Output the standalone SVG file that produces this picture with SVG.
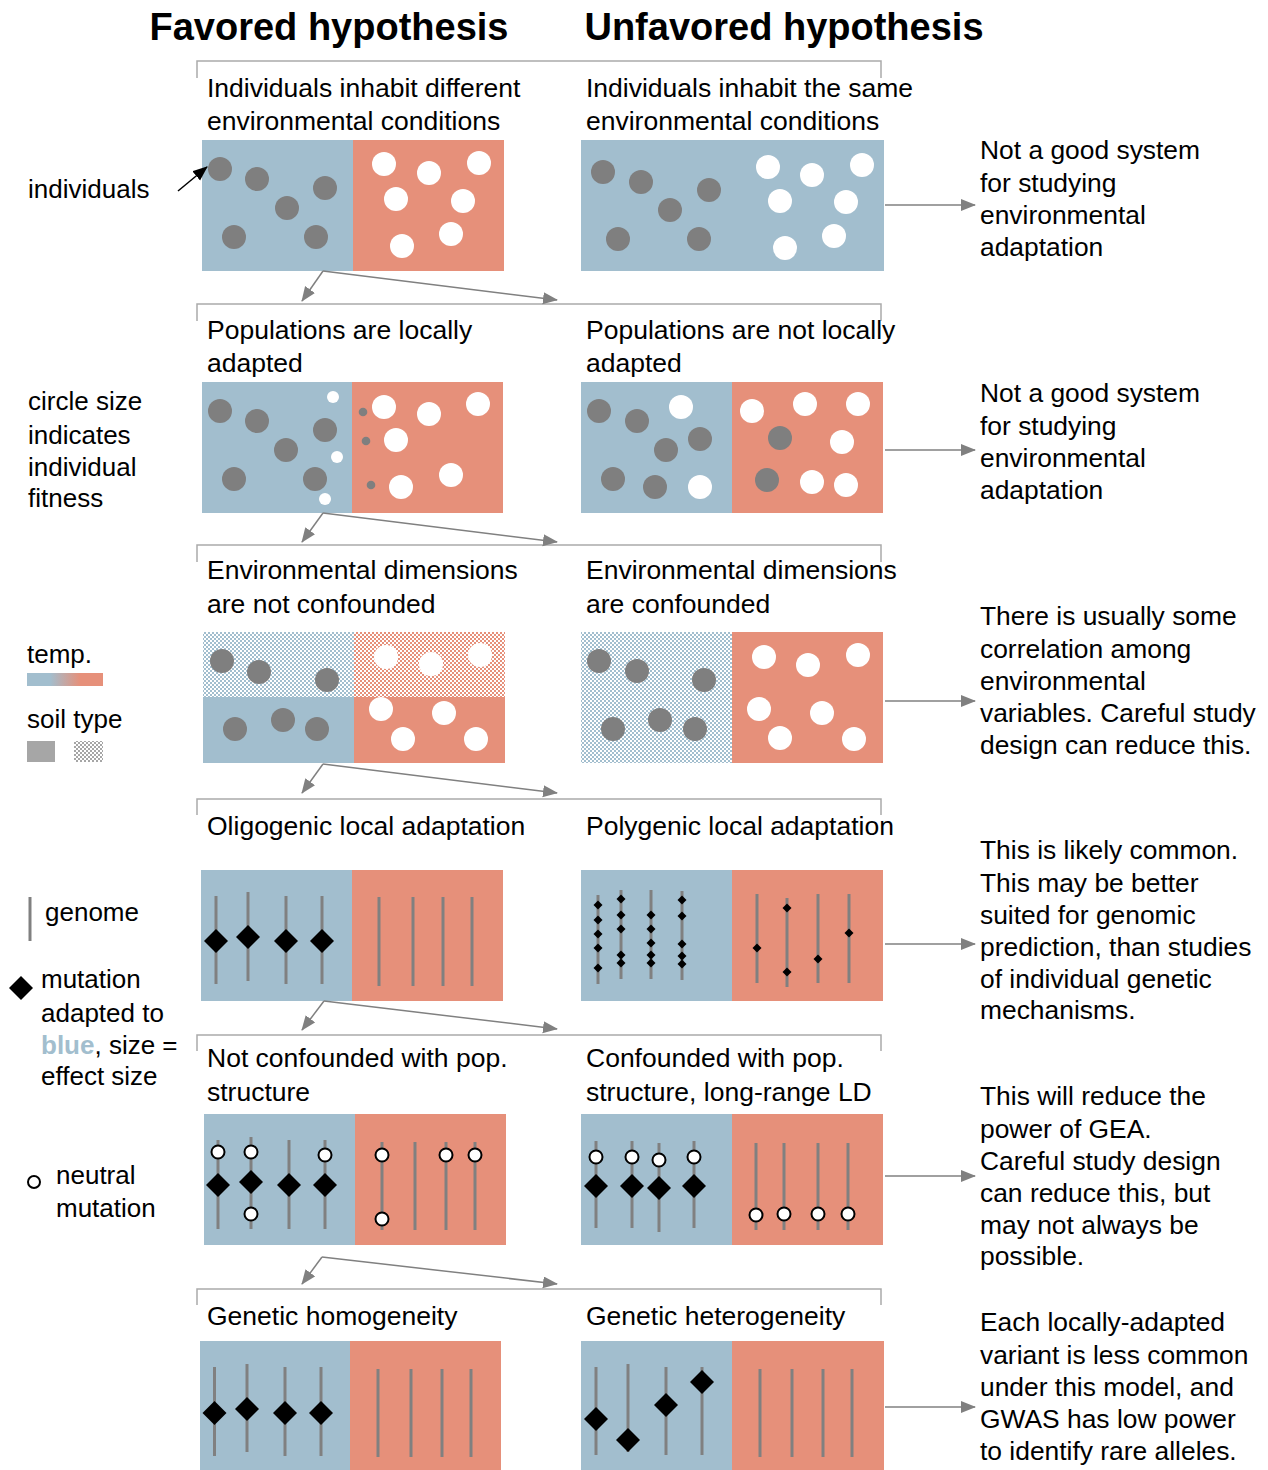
<svg xmlns="http://www.w3.org/2000/svg" xmlns:xlink="http://www.w3.org/1999/xlink" width="1268" height="1470" viewBox="0 0 1268 1470">
<style>
text{font-family:"Liberation Sans",Arial,sans-serif;fill:#000}
.title{font-size:38px;font-weight:bold;text-anchor:middle}
.lbl{font-size:26.5px}
.side{font-size:26.4px}
.leg{font-size:26px}
.blue{fill:#A2BECE}
.red{fill:#E6907A}
.pb{fill:url(#patB)}
.pr{fill:url(#patR)}
.g{fill:#7F7F7F}
.w{fill:#FFFFFF}
.gl{stroke:#808080;stroke-width:3;fill:none}
.nm{fill:#FFFFFF;stroke:#000;stroke-width:2}
.br{fill:none;stroke:#AAAAAA;stroke-width:1.5}
.con{stroke:#808080;stroke-width:1.5;fill:none;marker-end:url(#ah)}
</style>
<defs>
<marker id="ah" markerUnits="userSpaceOnUse" markerWidth="15" markerHeight="13" refX="14" refY="6" orient="auto"><path d="M0,0 L15,6 L0,12 Z" fill="#808080"/></marker>
<marker id="ahk" markerUnits="userSpaceOnUse" markerWidth="15" markerHeight="13" refX="14" refY="6" orient="auto"><path d="M0,0 L15,6 L0,12 Z" fill="#000"/></marker>
<pattern id="patB" patternUnits="userSpaceOnUse" width="4" height="4"><rect width="4" height="4" fill="#FFFFFF"/><rect x="0" y="0" width="2" height="2" fill="#A2BECE"/><rect x="2" y="2" width="2" height="2" fill="#A2BECE"/></pattern>
<pattern id="patR" patternUnits="userSpaceOnUse" width="4" height="4"><rect width="4" height="4" fill="#FFFFFF"/><rect x="0" y="0" width="2" height="2" fill="#E6907A"/><rect x="2" y="2" width="2" height="2" fill="#E6907A"/></pattern>
<pattern id="patG" patternUnits="userSpaceOnUse" width="4" height="4"><rect width="4" height="4" fill="#FFFFFF"/><rect x="0" y="0" width="2" height="2" fill="#A6A6A6"/><rect x="2" y="2" width="2" height="2" fill="#A6A6A6"/></pattern>
<linearGradient id="tempGrad" x1="0" y1="0" x2="1" y2="0"><stop offset="0.3" stop-color="#A2BECE"/><stop offset="0.7" stop-color="#E6907A"/></linearGradient>
<path id="dm" d="M0,-12 L12,0 L0,12 L-12,0 Z" fill="#000"/>
<path id="ds" d="M0,-4.5 L4.5,0 L0,4.5 L-4.5,0 Z" fill="#000"/>
</defs>

<g id="titles">
<text class="title" x="329" y="40">Favored hypothesis</text>
<text class="title" x="784" y="40">Unfavored hypothesis</text>
</g>

<g id="brackets">
<path class="br" d="M197,78 V61 H881 V78"/>
<path class="br" d="M197,321 V304 H881 V321"/>
<path class="br" d="M197,562 V545 H881 V562"/>
<path class="br" d="M197,815 V799 H881 V815"/>
<path class="br" d="M197,1051 V1035 H881 V1051"/>
<path class="br" d="M197,1305 V1289 H881 V1305"/>
</g>

<g id="legend">
<text class="leg" x="28" y="198">individuals</text>
<text class="leg" x="28" y="410">circle size</text>
<text class="leg" x="28" y="444">indicates</text>
<text class="leg" x="28" y="476">individual</text>
<text class="leg" x="28" y="507">fitness</text>
<text class="leg" x="27" y="663">temp.</text>
<rect x="27" y="673" width="76" height="13" fill="url(#tempGrad)"/>
<text class="leg" x="27" y="728">soil type</text>
<rect x="27" y="741" width="28" height="21" fill="#A6A6A6"/>
<rect x="74" y="741" width="29" height="21" fill="url(#patG)"/>
<line x1="30" y1="897" x2="30" y2="941" class="gl"/>
<text class="leg" x="45" y="921">genome</text>
<use href="#dm" x="21" y="988"/>
<text class="leg" x="41" y="988">mutation</text>
<text class="leg" x="41" y="1022">adapted to</text>
<text class="leg" x="41" y="1054"><tspan font-weight="bold" fill="#A2BECE">blue</tspan>, size =</text>
<text class="leg" x="41" y="1085">effect size</text>
<circle class="nm" cx="34" cy="1182" r="6"/>
<text class="leg" x="56" y="1184">neutral</text>
<text class="leg" x="56" y="1217">mutation</text>
</g>

<g id="row1-favored">
<text class="lbl" x="207" y="97">Individuals inhabit different</text>
<text class="lbl" x="207" y="130">environmental conditions</text>
<rect class="blue" x="202" y="140" width="151" height="131"/>
<rect class="red" x="353" y="140" width="151" height="131"/>
<g class="g"><circle cx="220" cy="169" r="12"/><circle cx="257" cy="179" r="12"/><circle cx="325" cy="188" r="12"/><circle cx="287" cy="208" r="12"/><circle cx="234" cy="237" r="12"/><circle cx="316" cy="237" r="12"/></g>
<g class="w"><circle cx="384" cy="164" r="12"/><circle cx="429" cy="173" r="12"/><circle cx="479" cy="163" r="12"/><circle cx="396" cy="199" r="12"/><circle cx="463" cy="201" r="12"/><circle cx="451" cy="234" r="12"/><circle cx="402" cy="246" r="12"/></g>
</g>
<g id="row1-unfavored">
<text class="lbl" x="586" y="97">Individuals inhabit the same</text>
<text class="lbl" x="586" y="130">environmental conditions</text>
<rect class="blue" x="581" y="140" width="303" height="131"/>
<g class="g"><circle cx="603" cy="172" r="12"/><circle cx="641" cy="182" r="12"/><circle cx="709" cy="190" r="12"/><circle cx="670" cy="210" r="12"/><circle cx="618" cy="239" r="12"/><circle cx="699" cy="239" r="12"/></g>
<g class="w"><circle cx="768" cy="167" r="12"/><circle cx="812" cy="175" r="12"/><circle cx="862" cy="165" r="12"/><circle cx="780" cy="201" r="12"/><circle cx="846" cy="202" r="12"/><circle cx="834" cy="236" r="12"/><circle cx="785" cy="248" r="12"/></g>
</g>
<g id="row1-note">
<text class="side" x="980" y="159">Not a good system</text>
<text class="side" x="980" y="192">for studying</text>
<text class="side" x="980" y="224">environmental</text>
<text class="side" x="980" y="256">adaptation</text>
</g>

<g id="row2-favored">
<text class="lbl" x="207" y="339">Populations are locally</text>
<text class="lbl" x="207" y="372">adapted</text>
<rect class="blue" x="202" y="382" width="150" height="131"/>
<rect class="red" x="352" y="382" width="151" height="131"/>
<g class="g"><circle cx="220" cy="411" r="12"/><circle cx="257" cy="421" r="12"/><circle cx="325" cy="430" r="12"/><circle cx="286" cy="450" r="12"/><circle cx="234" cy="479" r="12"/><circle cx="315" cy="479" r="12"/>
<circle cx="363" cy="412" r="4.3"/><circle cx="366" cy="441" r="4.3"/><circle cx="371" cy="485" r="4.3"/></g>
<g class="w"><circle cx="333" cy="397" r="6"/><circle cx="337" cy="457" r="6"/><circle cx="325" cy="499" r="6"/>
<circle cx="384" cy="407" r="12"/><circle cx="429" cy="414" r="12"/><circle cx="478" cy="404" r="12"/><circle cx="396" cy="440" r="12"/><circle cx="451" cy="475" r="12"/><circle cx="401" cy="487" r="12"/></g>
</g>
<g id="row2-unfavored">
<text class="lbl" x="586" y="339">Populations are not locally</text>
<text class="lbl" x="586" y="372">adapted</text>
<rect class="blue" x="581" y="382" width="151" height="131"/>
<rect class="red" x="732" y="382" width="151" height="131"/>
<g class="g"><circle cx="599" cy="411" r="12"/><circle cx="637" cy="421" r="12"/><circle cx="700" cy="439" r="12"/><circle cx="666" cy="450" r="12"/><circle cx="613" cy="479" r="12"/><circle cx="655" cy="487" r="12"/><circle cx="780" cy="438" r="12"/><circle cx="767" cy="480" r="12"/></g>
<g class="w"><circle cx="681" cy="407" r="12"/><circle cx="700" cy="487" r="12"/><circle cx="752" cy="411" r="12"/><circle cx="805" cy="404" r="12"/><circle cx="858" cy="404" r="12"/><circle cx="842" cy="442" r="12"/><circle cx="812" cy="482" r="12"/><circle cx="846" cy="485" r="12"/></g>
</g>
<g id="row2-note">
<text class="side" x="980" y="402">Not a good system</text>
<text class="side" x="980" y="435">for studying</text>
<text class="side" x="980" y="467">environmental</text>
<text class="side" x="980" y="499">adaptation</text>
</g>

<g id="row3-favored">
<text class="lbl" x="207" y="579">Environmental dimensions</text>
<text class="lbl" x="207" y="613">are not confounded</text>
<rect class="pb" x="203" y="632" width="151" height="65"/>
<rect class="pr" x="354" y="632" width="151" height="65"/>
<rect class="blue" x="203" y="697" width="151" height="66"/>
<rect class="red" x="354" y="697" width="151" height="66"/>
<g class="g"><circle cx="222" cy="661" r="12"/><circle cx="259" cy="672" r="12"/><circle cx="327" cy="680" r="12"/><circle cx="235" cy="729" r="12"/><circle cx="283" cy="720" r="12"/><circle cx="317" cy="729" r="12"/></g>
<g class="w"><circle cx="386" cy="657" r="12"/><circle cx="431" cy="664" r="12"/><circle cx="480" cy="655" r="12"/><circle cx="381" cy="709" r="12"/><circle cx="444" cy="713" r="12"/><circle cx="403" cy="739" r="12"/><circle cx="476" cy="739" r="12"/></g>
</g>
<g id="row3-unfavored">
<text class="lbl" x="586" y="579">Environmental dimensions</text>
<text class="lbl" x="586" y="613">are confounded</text>
<rect class="pb" x="581" y="632" width="151" height="131"/>
<rect class="red" x="732" y="632" width="151" height="131"/>
<g class="g"><circle cx="599" cy="661" r="12"/><circle cx="637" cy="671" r="12"/><circle cx="704" cy="680" r="12"/><circle cx="613" cy="729" r="12"/><circle cx="660" cy="720" r="12"/><circle cx="695" cy="729" r="12"/></g>
<g class="w"><circle cx="764" cy="657" r="12"/><circle cx="808" cy="665" r="12"/><circle cx="858" cy="655" r="12"/><circle cx="759" cy="709" r="12"/><circle cx="822" cy="713" r="12"/><circle cx="780" cy="738" r="12"/><circle cx="854" cy="739" r="12"/></g>
</g>
<g id="row3-note">
<text class="side" x="980" y="625">There is usually some</text>
<text class="side" x="980" y="658">correlation among</text>
<text class="side" x="980" y="690">environmental</text>
<text class="side" x="980" y="722">variables. Careful study</text>
<text class="side" x="980" y="754">design can reduce this.</text>
</g>

<g id="row4-favored">
<text class="lbl" x="207" y="835">Oligogenic local adaptation</text>
<rect class="blue" x="201" y="870" width="151" height="131"/>
<rect class="red" x="352" y="870" width="151" height="131"/>
<g class="gl"><line x1="216" y1="896" x2="216" y2="984"/><line x1="248" y1="892" x2="248" y2="981"/><line x1="286" y1="896" x2="286" y2="984"/><line x1="322" y1="896" x2="322" y2="984"/>
<line x1="379" y1="897" x2="379" y2="986"/><line x1="413" y1="897" x2="413" y2="986"/><line x1="443" y1="897" x2="443" y2="986"/><line x1="472" y1="897" x2="472" y2="986"/></g>
<use href="#dm" x="216" y="941"/><use href="#dm" x="248" y="937"/><use href="#dm" x="286" y="941"/><use href="#dm" x="322" y="941"/>
</g>
<g id="row4-unfavored">
<text class="lbl" x="586" y="835">Polygenic local adaptation</text>
<rect class="blue" x="581" y="870" width="151" height="131"/>
<rect class="red" x="732" y="870" width="151" height="131"/>
<g class="gl"><line x1="598" y1="895" x2="598" y2="984"/><line x1="621" y1="890" x2="621" y2="979"/><line x1="651" y1="890" x2="651" y2="979"/><line x1="682" y1="891" x2="682" y2="980"/>
<line x1="757" y1="894" x2="757" y2="983"/><line x1="787" y1="898" x2="787" y2="987"/><line x1="818" y1="894" x2="818" y2="983"/><line x1="849" y1="894" x2="849" y2="983"/></g>
<use href="#ds" x="598" y="905"/><use href="#ds" x="598" y="920"/><use href="#ds" x="598" y="934"/><use href="#ds" x="598" y="948"/><use href="#ds" x="598" y="968"/>
<use href="#ds" x="621" y="899"/><use href="#ds" x="621" y="915"/><use href="#ds" x="621" y="929"/><use href="#ds" x="621" y="955"/><use href="#ds" x="621" y="963"/>
<use href="#ds" x="651" y="915"/><use href="#ds" x="651" y="929"/><use href="#ds" x="651" y="943"/><use href="#ds" x="651" y="955"/><use href="#ds" x="651" y="963"/>
<use href="#ds" x="682" y="900"/><use href="#ds" x="682" y="916"/><use href="#ds" x="682" y="944"/><use href="#ds" x="682" y="956"/><use href="#ds" x="682" y="964"/>
<use href="#ds" x="757" y="948"/><use href="#ds" x="787" y="908"/><use href="#ds" x="787" y="972"/><use href="#ds" x="818" y="959"/><use href="#ds" x="849" y="933"/>
</g>
<g id="row4-note">
<text class="side" x="980" y="859">This is likely common.</text>
<text class="side" x="980" y="892">This may be better</text>
<text class="side" x="980" y="924">suited for genomic</text>
<text class="side" x="980" y="956">prediction, than studies</text>
<text class="side" x="980" y="988">of individual genetic</text>
<text class="side" x="980" y="1019">mechanisms.</text>
</g>

<g id="row5-favored">
<text class="lbl" x="207" y="1067">Not confounded with pop.</text>
<text class="lbl" x="207" y="1101">structure</text>
<rect class="blue" x="204" y="1114" width="151" height="131"/>
<rect class="red" x="355" y="1114" width="151" height="131"/>
<g class="gl"><line x1="218" y1="1140" x2="218" y2="1229"/><line x1="251" y1="1137" x2="251" y2="1229"/><line x1="289" y1="1140" x2="289" y2="1229"/><line x1="325" y1="1140" x2="325" y2="1229"/>
<line x1="382" y1="1142" x2="382" y2="1230"/><line x1="415" y1="1142" x2="415" y2="1230"/><line x1="446" y1="1142" x2="446" y2="1230"/><line x1="475" y1="1142" x2="475" y2="1230"/></g>
<use href="#dm" x="218" y="1185"/><use href="#dm" x="251" y="1182"/><use href="#dm" x="289" y="1185"/><use href="#dm" x="325" y="1185"/>
<circle class="nm" cx="218" cy="1152" r="6.5"/><circle class="nm" cx="251" cy="1152" r="6.5"/><circle class="nm" cx="325" cy="1155" r="6.5"/><circle class="nm" cx="251" cy="1214" r="6.5"/>
<circle class="nm" cx="382" cy="1155" r="6.5"/><circle class="nm" cx="382" cy="1219" r="6.5"/><circle class="nm" cx="446" cy="1155" r="6.5"/><circle class="nm" cx="475" cy="1155" r="6.5"/>
</g>
<g id="row5-unfavored">
<text class="lbl" x="586" y="1067">Confounded with pop.</text>
<text class="lbl" x="586" y="1101">structure, long-range LD</text>
<rect class="blue" x="581" y="1114" width="151" height="131"/>
<rect class="red" x="732" y="1114" width="151" height="131"/>
<g class="gl"><line x1="596" y1="1141" x2="596" y2="1228"/><line x1="632" y1="1141" x2="632" y2="1228"/><line x1="659" y1="1143" x2="659" y2="1232"/><line x1="694" y1="1141" x2="694" y2="1228"/>
<line x1="756" y1="1143" x2="756" y2="1230"/><line x1="784" y1="1143" x2="784" y2="1230"/><line x1="818" y1="1143" x2="818" y2="1230"/><line x1="848" y1="1143" x2="848" y2="1230"/></g>
<use href="#dm" x="596" y="1186"/><use href="#dm" x="632" y="1186"/><use href="#dm" x="659" y="1188"/><use href="#dm" x="694" y="1186"/>
<circle class="nm" cx="596" cy="1157" r="6.5"/><circle class="nm" cx="632" cy="1157" r="6.5"/><circle class="nm" cx="659" cy="1160" r="6.5"/><circle class="nm" cx="694" cy="1157" r="6.5"/>
<circle class="nm" cx="756" cy="1215" r="6.5"/><circle class="nm" cx="784" cy="1214" r="6.5"/><circle class="nm" cx="818" cy="1214" r="6.5"/><circle class="nm" cx="848" cy="1214" r="6.5"/>
</g>
<g id="row5-note">
<text class="side" x="980" y="1105">This will reduce the</text>
<text class="side" x="980" y="1138">power of GEA.</text>
<text class="side" x="980" y="1170">Careful study design</text>
<text class="side" x="980" y="1202">can reduce this, but</text>
<text class="side" x="980" y="1234">may not always be</text>
<text class="side" x="980" y="1265">possible.</text>
</g>

<g id="row6-favored">
<text class="lbl" x="207" y="1325">Genetic homogeneity</text>
<rect class="blue" x="200" y="1341" width="150" height="129"/>
<rect class="red" x="350" y="1341" width="151" height="129"/>
<g class="gl"><line x1="214.5" y1="1367" x2="214.5" y2="1456"/><line x1="247" y1="1364" x2="247" y2="1452"/><line x1="285" y1="1367" x2="285" y2="1456"/><line x1="321" y1="1367" x2="321" y2="1456"/>
<line x1="378" y1="1369" x2="378" y2="1457"/><line x1="411" y1="1369" x2="411" y2="1457"/><line x1="442" y1="1369" x2="442" y2="1457"/><line x1="471" y1="1369" x2="471" y2="1457"/></g>
<use href="#dm" x="214.5" y="1413"/><use href="#dm" x="247" y="1409"/><use href="#dm" x="285" y="1413"/><use href="#dm" x="321" y="1413"/>
</g>
<g id="row6-unfavored">
<text class="lbl" x="586" y="1325">Genetic heterogeneity</text>
<rect class="blue" x="581" y="1341" width="151" height="129"/>
<rect class="red" x="732" y="1341" width="152" height="129"/>
<g class="gl"><line x1="596" y1="1367" x2="596" y2="1455"/><line x1="628" y1="1364" x2="628" y2="1452"/><line x1="666" y1="1367" x2="666" y2="1455"/><line x1="702" y1="1367" x2="702" y2="1455"/>
<line x1="760" y1="1369" x2="760" y2="1457"/><line x1="792" y1="1369" x2="792" y2="1457"/><line x1="823" y1="1369" x2="823" y2="1457"/><line x1="852" y1="1369" x2="852" y2="1457"/></g>
<use href="#dm" x="596" y="1419"/><use href="#dm" x="628" y="1440"/><use href="#dm" x="666" y="1405"/><use href="#dm" x="702" y="1382"/>
</g>
<g id="row6-note">
<text class="side" x="980" y="1331">Each locally-adapted</text>
<text class="side" x="980" y="1364">variant is less common</text>
<text class="side" x="980" y="1396">under this model, and</text>
<text class="side" x="980" y="1428">GWAS has low power</text>
<text class="side" x="980" y="1460">to identify rare alleles.</text>
</g>

<g id="connectors">
<line x1="178" y1="191" x2="207" y2="167" stroke="#000" stroke-width="1.5" marker-end="url(#ahk)"/>
<line class="con" x1="323" y1="271" x2="302" y2="301"/>
<line class="con" x1="323" y1="271" x2="557" y2="300"/>
<line class="con" x1="323" y1="513" x2="302" y2="542"/>
<line class="con" x1="323" y1="513" x2="557" y2="542"/>
<line class="con" x1="323" y1="764" x2="302" y2="793"/>
<line class="con" x1="323" y1="764" x2="557" y2="793"/>
<line class="con" x1="324" y1="1001" x2="302" y2="1030"/>
<line class="con" x1="324" y1="1001" x2="557" y2="1029"/>
<line class="con" x1="322" y1="1257" x2="302" y2="1284"/>
<line class="con" x1="322" y1="1257" x2="557" y2="1284"/>
<line class="con" x1="885" y1="205" x2="975" y2="205"/>
<line class="con" x1="885" y1="450" x2="975" y2="450"/>
<line class="con" x1="885" y1="701" x2="975" y2="701"/>
<line class="con" x1="885" y1="944" x2="975" y2="944"/>
<line class="con" x1="885" y1="1176" x2="975" y2="1176"/>
<line class="con" x1="885" y1="1407" x2="975" y2="1407"/>
</g>
</svg>
